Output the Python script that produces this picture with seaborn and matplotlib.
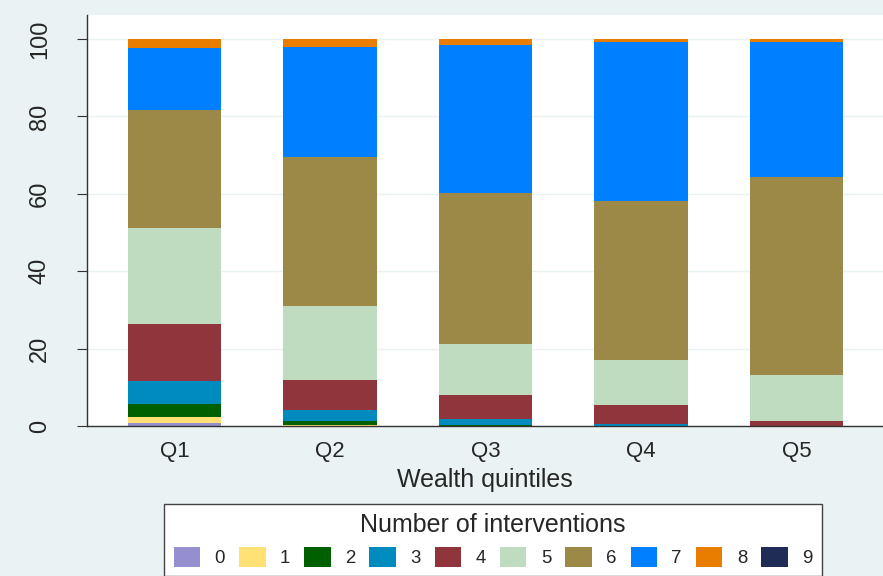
import matplotlib.pyplot as plt
import seaborn as sns
import numpy as np
from matplotlib.patches import Patch

# Stacked share (%) of households by number of interventions, per wealth quintile
quintiles = ['Q1', 'Q2', 'Q3', 'Q4', 'Q5']
interventions = ['0', '1', '2', '3', '4', '5', '6', '7', '8', '9']

n0 = [0.9, 0.1, 0.0, 0.0, 0.0]
n1 = [1.4, 0.2, 0.1, 0.0, 0.0]
n2 = [3.3, 0.9, 0.2, 0.1, 0.0]
n3 = [5.9, 3.0, 1.4, 0.5, 0.1]
n4 = [14.8, 7.8, 6.2, 4.8, 1.1]
n5 = [24.8, 19.0, 13.3, 11.6, 12.0]
n6 = [30.5, 38.5, 39.0, 41.1, 51.1]
n7 = [16.2, 28.4, 38.2, 41.1, 34.9]
n8 = [2.2, 2.1, 1.6, 0.8, 0.8]
n9 = [0.0, 0.0, 0.0, 0.0, 0.0]
shares = [n0, n1, n2, n3, n4, n5, n6, n7, n8, n9]

colors = ['#958FD0', '#FFE175', '#006000', '#008BBF', '#90353B',
          '#C0DCC0', '#9C8847', '#0080FF', '#E87D00', '#1F2C56']

sns.set_style('white')
plt.rcParams['font.family'] = ['Liberation Sans', 'DejaVu Sans']

bg = '#EAF2F3'
fig = plt.figure(figsize=(8.83, 5.76), dpi=100, facecolor=bg)
ax = fig.add_axes([87 / 883, 150 / 576, 1 - 87 / 883, 411 / 576])
ax.set_facecolor('white')

bottom = np.zeros(len(quintiles))
for vals, c in zip(shares, colors):
    sns.barplot(x=quintiles, y=vals, order=quintiles, color=c, width=0.6,
                bottom=bottom, ax=ax, linewidth=0, saturation=1, errorbar=None)
    bottom += np.array(vals)

ax.set_xlim(-0.563, 4.556)
ax.set_ylim(0, 106.2)
ax.set_yticks([0, 20, 40, 60, 80, 100])
ax.yaxis.grid(True, color=bg, linewidth=1)
ax.set_axisbelow(True)
for lbl in ax.get_yticklabels():
    lbl.set_rotation(90)
    lbl.set_va('center')
ax.tick_params(axis='y', labelsize=17, length=7, color='#333333', direction='out',
               left=True, pad=19)
ax.tick_params(axis='x', labelsize=16, length=0, pad=11)
ax.set_xlabel('Wealth quintiles', fontsize=18, labelpad=4)
ax.set_ylabel('')
for s in ['top', 'right']:
    ax.spines[s].set_visible(False)
for s in ['left', 'bottom']:
    ax.spines[s].set_color('#333333')
    ax.spines[s].set_linewidth(1)

handles = [Patch(facecolor=c, edgecolor='none') for c in colors]
leg = fig.legend(handles, interventions, ncol=10, title='Number of interventions',
                 loc='upper center', bbox_to_anchor=(493 / 883, 1 - 504 / 576),
                 borderaxespad=0,
                 fontsize=13.4, title_fontsize=18, frameon=True, fancybox=False,
                 edgecolor='#444444', facecolor='white', framealpha=1,
                 handlelength=1.43, handleheight=1.29, handletextpad=0.77,
                 columnspacing=0.75, borderpad=0.5)
leg.get_frame().set_linewidth(1)

fig.savefig('out.png', dpi=100, facecolor=bg)
